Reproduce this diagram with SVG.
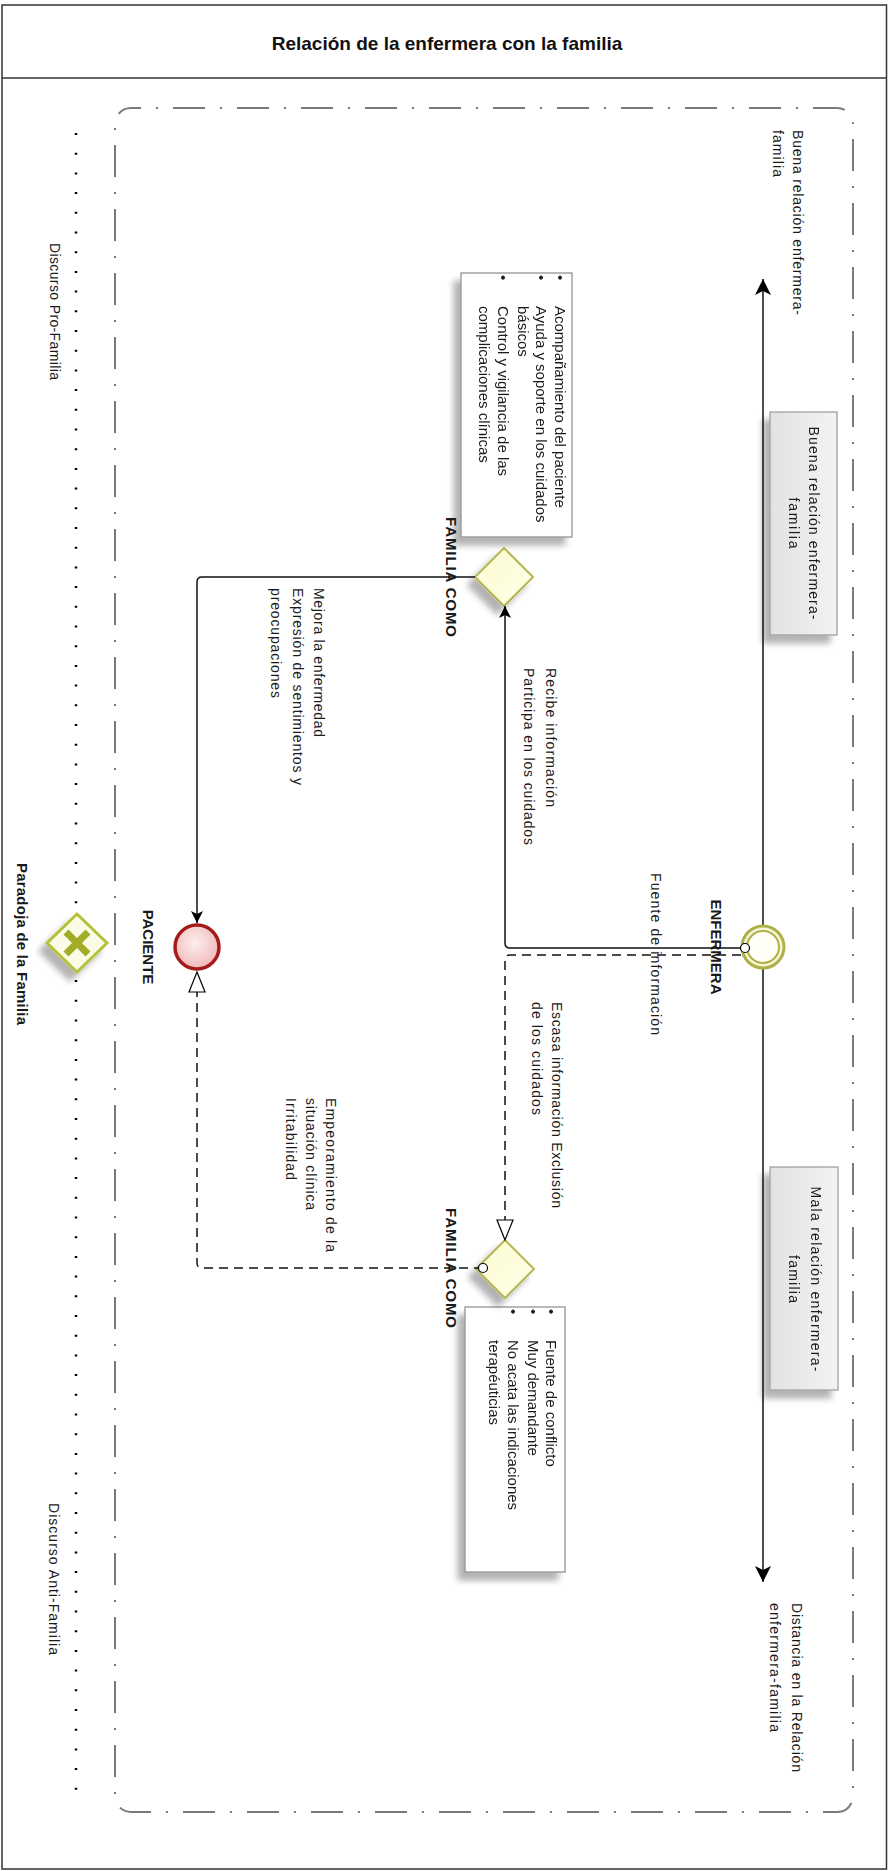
<svg xmlns="http://www.w3.org/2000/svg" width="889" height="1871" viewBox="0 0 889 1871">
<style>
.t{font-family:"Liberation Sans",Arial,sans-serif;fill:#1a1a1a;font-size:14px}
.n{font-size:15px}
.b{font-weight:bold;font-size:15px}
.ttl{font-family:"Liberation Sans",Arial,sans-serif;font-weight:bold;font-size:19px;fill:#111}
.c{fill:none;stroke:#111;stroke-width:1.5}
.d{stroke-dasharray:9 6}
.note{fill:#fff;stroke:#8a8a8a;stroke-width:1.2}
.gbox{fill:url(#gGray);stroke:#9a9a9a;stroke-width:1.2}
.dia{fill:url(#gYel);stroke:#b6b657;stroke-width:2}
</style>
<defs>
<linearGradient id="gGray" x1="1" y1="0" x2="0" y2="0"><stop offset="0" stop-color="#f3f3f3"/><stop offset="1" stop-color="#e2e2e2"/></linearGradient>
<linearGradient id="gYel" x1="0" y1="0" x2="1" y2="1"><stop offset="0" stop-color="#fbfbd0"/><stop offset="1" stop-color="#ffffe8"/></linearGradient>
<radialGradient id="gRed" cx="0.45" cy="0.4" r="0.6"><stop offset="0" stop-color="#fdeeee"/><stop offset="1" stop-color="#f1b9b9"/></radialGradient>
<filter id="sh" x="-40%" y="-30%" width="180%" height="160%">
<feGaussianBlur in="SourceAlpha" stdDeviation="3"/><feOffset dx="-7" dy="8" result="o"/>
<feComponentTransfer><feFuncA type="linear" slope="0.3"/></feComponentTransfer>
<feMerge><feMergeNode/><feMergeNode in="SourceGraphic"/></feMerge></filter>
<marker id="arrBig" markerUnits="userSpaceOnUse" viewBox="-17 -9 18 18" markerWidth="18" markerHeight="18" refX="0" refY="0" orient="auto-start-reverse"><path d="M0,0 L-16,-8 L-12,0 L-16,8 Z" fill="#000"/></marker>
<marker id="arr" markerUnits="userSpaceOnUse" viewBox="-13 -7 14 14" markerWidth="14" markerHeight="14" refX="0" refY="0" orient="auto"><path d="M0,0 L-12,-6 L-9,0 L-12,6 Z" fill="#000"/></marker>
<marker id="open" markerUnits="userSpaceOnUse" viewBox="-1 -9 22 18" markerWidth="22" markerHeight="18" refX="0" refY="0" orient="auto"><path d="M0,-8 L20,0 L0,8 Z" fill="#fff" stroke="#000" stroke-width="1.2"/></marker>
<marker id="dot" markerUnits="userSpaceOnUse" viewBox="-6 -6 12 12" markerWidth="12" markerHeight="12" refX="0" refY="0"><circle r="4.5" fill="#fff" stroke="#000" stroke-width="1.2"/></marker>
</defs>
<rect x="0" y="0" width="889" height="1871" fill="#fff"/>
<g id="frame">
<rect x="2" y="5" width="884.5" height="1864" fill="none" stroke="#333" stroke-width="1.5"/>
<line x1="2" y1="78" x2="886.5" y2="78" stroke="#333" stroke-width="1.5"/>
<text class="ttl" x="447" y="50" text-anchor="middle">Relación de la enfermera con la familia</text>
</g>
<g id="pool">
<rect x="115" y="108" width="738" height="1704" rx="16" fill="none" stroke="#7a7a7a" stroke-width="2" stroke-dasharray="32 15 2 15" stroke-dashoffset="22"/>
<line x1="76" y1="133" x2="76" y2="1792" stroke="#000" stroke-width="2.5" stroke-dasharray="2 17.7"/>
<text class="t" transform="translate(50,243) rotate(90)" textLength="137" lengthAdjust="spacing">Discurso Pro-Familia</text>
<text class="t" transform="translate(49,1503) rotate(90)" textLength="152" lengthAdjust="spacing">Discurso Anti-Familia</text>
<text class="t" transform="translate(793,130) rotate(90)" textLength="185" lengthAdjust="spacing">Buena relación enfermera-</text>
<text class="t" transform="translate(773,130) rotate(90)" textLength="47" lengthAdjust="spacing">familia</text>
<text class="t" transform="translate(792,1603) rotate(90)" textLength="169" lengthAdjust="spacing">Distancia en la Relación</text>
<text class="t" transform="translate(770,1603) rotate(90)" textLength="129" lengthAdjust="spacing">enfermera-familia</text>
</g>
<g id="timeline">
<path class="c" d="M763,279 V1582" stroke-width="1.8" marker-start="url(#arrBig)" marker-end="url(#arrBig)"/>
</g>
<g id="buena-box" filter="url(#sh)">
<rect class="gbox" x="770" y="412" width="67" height="223"/>
<text class="t" transform="translate(809,523) rotate(90)" text-anchor="middle" textLength="193" lengthAdjust="spacing">Buena relación enfermera-</text>
<text class="t" transform="translate(789,523) rotate(90)" text-anchor="middle" textLength="51" lengthAdjust="spacing">familia</text>
</g>
<g id="mala-box" filter="url(#sh)">
<rect class="gbox" x="770" y="1167" width="68" height="223"/>
<text class="t" transform="translate(811,1279) rotate(90)" text-anchor="middle" textLength="185" lengthAdjust="spacing">Mala relación enfermera-</text>
<text class="t" transform="translate(789,1279) rotate(90)" text-anchor="middle" textLength="48" lengthAdjust="spacing">familia</text>
</g>
<g id="note-pro" filter="url(#sh)">
<rect class="note" x="461" y="273" width="111" height="264"/>
<text class="t n" transform="translate(555,275) rotate(90)">•<tspan x="31">Acompañamiento del paciente</tspan></text>
<text class="t n" transform="translate(536,275) rotate(90)">•<tspan x="31">Ayuda y soporte en los cuidados</tspan></text>
<text class="t n" transform="translate(518,306) rotate(90)">básicos</text>
<text class="t n" transform="translate(498,275) rotate(90)">•<tspan x="31">Control y vigilancia de las</tspan></text>
<text class="t n" transform="translate(479,306) rotate(90)">complicaciones clínicas</text>
</g>
<g id="note-anti" filter="url(#sh)">
<rect class="note" x="465" y="1307" width="100" height="265"/>
<text class="t n" transform="translate(546,1309) rotate(90)">•<tspan x="31">Fuente de conflicto</tspan></text>
<text class="t n" transform="translate(528,1309) rotate(90)">•<tspan x="31">Muy demandante</tspan></text>
<text class="t n" transform="translate(508,1309) rotate(90)">•<tspan x="31">No acata las indicaciones</tspan></text>
<text class="t n" transform="translate(489,1340) rotate(90)">terapéuticias</text>
</g>
<g id="enfermera">
<circle cx="763" cy="947" r="21" fill="#f5f5d6" stroke="#b0b04a" stroke-width="3"/>
<circle cx="763" cy="947" r="16" fill="#fffff6" stroke="#b0b04a" stroke-width="2"/>
<text class="t b" transform="translate(710.5,947) rotate(90)" text-anchor="middle">ENFERMERA</text>
</g>
<g id="paciente">
<circle cx="197" cy="947" r="22" fill="url(#gRed)" stroke="#a51b1b" stroke-width="3.5"/>
<text class="t b" transform="translate(142.5,947) rotate(90)" text-anchor="middle">PACIENTE</text>
</g>
<g id="familia-pro">
<path class="dia" d="M504,548 L533,577 L504,606 L475,577 Z" filter="url(#sh)"/>
<text class="t b" transform="translate(445.5,577) rotate(90)" text-anchor="middle" textLength="120" lengthAdjust="spacing">FAMILIA COMO</text>
</g>
<g id="familia-anti">
<path class="dia" d="M505,1240 L534,1269 L505,1298 L476,1269 Z" filter="url(#sh)"/>
<text class="t b" transform="translate(445.5,1268) rotate(90)" text-anchor="middle" textLength="120" lengthAdjust="spacing">FAMILIA COMO</text>
</g>
<g id="paradoja">
<path d="M77,914 L107,943 L77,972 L47,943 Z" fill="#fbfce6" stroke="#b5c03a" stroke-width="3" filter="url(#sh)"/>
<path d="M66,932 L88,954 M88,932 L66,954" stroke="#a2ac27" stroke-width="7" fill="none"/>
<text class="t b" transform="translate(17,863) rotate(90)" textLength="162" lengthAdjust="spacing">Paradoja de la Familia</text>
</g>
<g id="connectors">
<path class="c" d="M745,948 H510 Q505,948 505,943 V606" marker-start="url(#dot)" marker-end="url(#arr)"/>
<path class="c" d="M475,577 H202 Q197,577 197,582 V923" marker-end="url(#arr)"/>
<path class="c d" d="M741,955 H510 Q505,955 505,960 V1220"  marker-end="url(#open)"/>
<path class="c d" d="M483,1268 H202 Q197,1268 197,1263 V992" marker-start="url(#dot)" marker-end="url(#open)"/>
<text class="t" transform="translate(651,873) rotate(90)" textLength="162" lengthAdjust="spacing">Fuente de información</text>
<text class="t" transform="translate(546,668) rotate(90)" textLength="139" lengthAdjust="spacing">Recibe información</text>
<text class="t" transform="translate(524,668) rotate(90)" textLength="177" lengthAdjust="spacing">Participa en los cuidados</text>
<text class="t" transform="translate(314,588) rotate(90)" textLength="149" lengthAdjust="spacing">Mejora la enfermedad</text>
<text class="t" transform="translate(293,588) rotate(90)" textLength="197" lengthAdjust="spacing">Expresión de sentimientos y</text>
<text class="t" transform="translate(271,588) rotate(90)" textLength="110" lengthAdjust="spacing">preocupaciones</text>
<text class="t" transform="translate(552,1002) rotate(90)" textLength="206" lengthAdjust="spacing">Escasa información Exclusión</text>
<text class="t" transform="translate(532,1002) rotate(90)" textLength="113" lengthAdjust="spacing">de los cuidados</text>
<text class="t" transform="translate(326,1098) rotate(90)" textLength="154" lengthAdjust="spacing">Empeoramiento de la</text>
<text class="t" transform="translate(306,1098) rotate(90)" textLength="112" lengthAdjust="spacing">situación clínica</text>
<text class="t" transform="translate(286,1098) rotate(90)" textLength="82" lengthAdjust="spacing">Irritabilidad</text>
</g>
</svg>
